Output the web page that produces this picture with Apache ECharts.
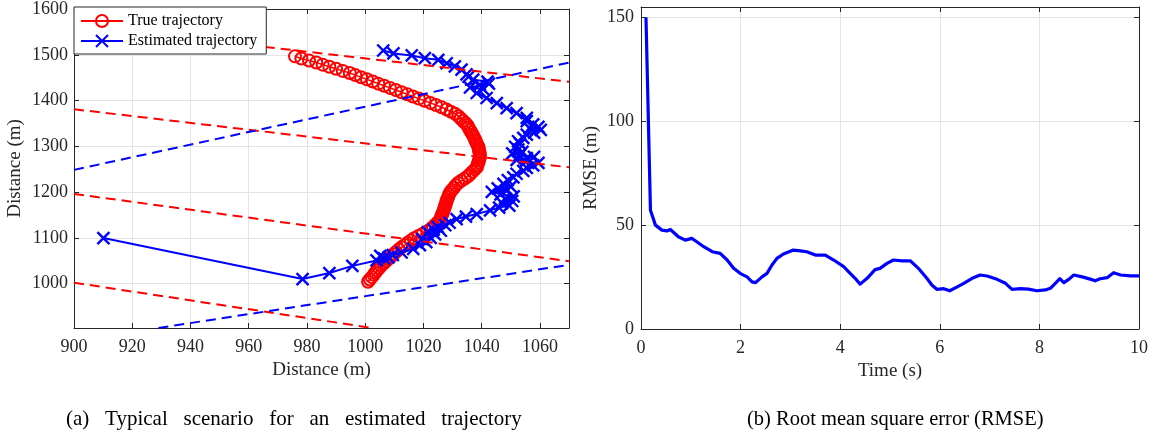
<!DOCTYPE html>
<html>
<head>
<meta charset="utf-8">
<script src="https://cdn.jsdelivr.net/npm/echarts@6.0.0/dist/echarts.min.js"></script>
<style>
  html, body { margin: 0; padding: 0; background: #fff; }
  #chart { width: 1157px; height: 438px; }
</style>
</head>
<body>
<div id="chart"></div>
<script>
// True target path [x, y] in metres, one sample every 0.1 s
const trueTrajectory = [
  [1001.0,1004.0],[1001.6,1009.0],[1002.3,1014.1],[1002.9,1019.1],[1003.5,1024.2],[1004.1,1029.2],
  [1004.8,1034.2],[1005.5,1039.3],[1006.4,1044.3],[1007.2,1049.3],[1008.0,1054.3],[1008.9,1059.3],
  [1009.7,1064.3],[1010.6,1069.3],[1011.5,1074.3],[1012.5,1079.3],[1013.6,1084.3],[1014.6,1089.2],
  [1015.7,1094.2],[1016.8,1099.1],[1018.3,1104.0],[1019.8,1108.9],[1021.3,1113.7],[1022.4,1118.7],
  [1023.3,1123.7],[1024.1,1128.7],[1024.9,1133.7],[1025.6,1138.7],[1026.0,1143.8],[1026.3,1148.9],
  [1026.6,1153.9],[1026.9,1159.0],[1027.2,1164.1],[1027.4,1169.1],[1027.7,1174.2],[1027.9,1179.3],
  [1028.2,1184.4],[1028.5,1189.4],[1028.8,1194.5],[1029.2,1199.6],[1029.8,1204.6],[1030.5,1209.6],
  [1031.1,1214.7],[1031.9,1219.7],[1033.0,1224.6],[1034.2,1229.6],[1035.3,1234.6],[1036.1,1239.6],
  [1036.9,1244.6],[1037.7,1249.6],[1038.4,1254.6],[1038.6,1259.7],[1038.9,1264.8],[1039.1,1269.9],
  [1039.4,1274.9],[1039.4,1280.0],[1039.3,1285.1],[1039.1,1290.2],[1039.0,1295.2],[1038.8,1300.3],
  [1038.4,1305.4],[1038.0,1310.4],[1037.7,1315.5],[1037.3,1320.6],[1036.9,1325.6],[1036.4,1330.7],
  [1036.0,1335.8],[1035.5,1340.8],[1035.1,1345.9],[1034.4,1350.9],[1033.6,1355.9],[1032.8,1360.9],
  [1032.0,1365.9],[1030.9,1370.9],[1029.4,1375.7],[1027.9,1380.6],[1026.2,1385.4],[1024.3,1390.1],
  [1022.4,1394.8],[1020.4,1399.5],[1018.4,1404.2],[1016.4,1408.8],[1014.5,1413.5],[1012.5,1418.2],
  [1010.5,1422.9],[1008.5,1427.6],[1006.5,1432.2],[1004.5,1436.9],[1002.6,1441.6],[1000.6,1446.3],
  [998.6,1451.0],[996.6,1455.6],[994.7,1460.3],[992.3,1464.8],[990.0,1469.3],[987.7,1473.9],
  [985.4,1478.4],[983.2,1483.0],[980.7,1487.4],[978.1,1491.7],[975.9,1496.5]
];

// Filter estimate [x, y] in metres
const estimatedTrajectory = [
  [910.1,1099.5],[978.5,1010.0],[987.7,1023.0],[995.6,1038.7],[1003.9,1050.7],[1006.5,1055.0],
  [1005.2,1060.5],[1008.0,1057.5],[1009.5,1062.5],[1012.5,1068.0],[1016.5,1076.0],[1018.8,1084.0],
  [1021.0,1090.5],[1019.5,1097.0],[1022.5,1100.0],[1024.0,1107.5],[1021.5,1112.5],[1023.5,1118.0],
  [1026.0,1115.5],[1025.0,1123.5],[1027.5,1127.5],[1029.0,1133.0],[1031.4,1141.0],[1034.6,1146.5],
  [1038.3,1152.0],[1042.9,1160.0],[1046.0,1166.0],[1049.5,1170.5],[1047.0,1176.0],[1050.5,1180.5],
  [1048.0,1186.0],[1051.0,1190.5],[1046.5,1195.0],[1043.5,1200.5],[1048.5,1203.0],[1045.5,1208.0],
  [1050.0,1212.0],[1047.5,1218.0],[1049.0,1226.0],[1050.9,1232.0],[1052.0,1240.0],[1054.3,1246.5],
  [1055.5,1253.0],[1057.7,1258.5],[1059.5,1264.0],[1055.0,1266.5],[1052.0,1270.5],[1055.5,1274.0],
  [1058.0,1277.0],[1053.0,1280.0],[1050.5,1284.5],[1054.0,1288.0],[1052.6,1293.0],[1051.5,1299.0],
  [1053.2,1305.0],[1052.5,1311.0],[1054.3,1318.5],[1055.5,1325.5],[1058.0,1330.0],[1060.3,1336.0],
  [1056.5,1339.0],[1059.5,1342.5],[1057.7,1348.0],[1055.5,1355.0],[1055.5,1362.0],[1052.0,1372.5],
  [1048.6,1383.5],[1045.2,1394.5],[1041.7,1405.5],[1038.3,1416.5],[1040.5,1425.0],[1036.0,1428.5],
  [1042.5,1437.0],[1039.4,1434.5],[1042.0,1441.5],[1037.1,1445.5],[1035.5,1452.0],[1034.8,1457.0],
  [1033.1,1467.5],[1030.8,1474.5],[1028.0,1481.5],[1025.1,1489.0],[1020.5,1492.5],[1016.0,1498.5],
  [1009.7,1503.0],[1006.2,1509.3]
];

// Dashed bearing lines, each given by its two end points
const redLines = [
  [[900, 1565], [1070, 1441]],
  [[900, 1381], [1070, 1254]],
  [[900, 1196], [1070, 1049]],
  [[900, 1002], [1002.5, 903]]
];
const blueLines = [
  [[900, 1248.5], [1070, 1483]],
  [[929, 903], [1070, 1041]]
];

// Root mean square error over time
const rmseTime = [
  0.1, 0.19, 0.29, 0.42, 0.52, 0.59, 0.75, 0.89, 1.02, 1.12, 1.26, 1.43, 1.59, 1.73, 1.86, 1.99,
  2.13, 2.23, 2.3, 2.43, 2.53, 2.63, 2.73, 2.86, 3.06, 3.2, 3.33, 3.5, 3.7, 3.87, 4.07, 4.2, 4.3,
  4.4, 4.54, 4.7, 4.8, 4.94, 5.07, 5.24, 5.41, 5.57, 5.74, 5.84, 5.94, 6.08, 6.2, 6.35, 6.48, 6.65,
  6.81, 6.95, 7.15, 7.32, 7.45, 7.62, 7.78, 7.95, 8.12, 8.22, 8.32, 8.41, 8.49, 8.59, 8.69, 8.86,
  9.02, 9.12, 9.22, 9.36, 9.49, 9.63, 9.83, 10.0
];
const rmseValue = [
  150, 57.2, 50, 47.6, 47.2, 47.9, 44.4, 42.8, 43.6, 42, 39.6, 37.2, 36.4, 33.2, 29.2, 26.8,
  25.1, 22.7, 22.3, 25.1, 26.8, 30.8, 34, 36.1, 38, 37.6, 37.2, 35.6, 35.6, 33.2, 30, 26.8, 24.4,
  21.6, 24.4, 28.6, 29.2, 31.6, 33.2, 32.8, 32.8, 29.2, 24.4, 21.2, 19.1, 19.4, 18.4, 20.3, 22, 24.4,
  26, 25.5, 23.9, 22, 19.1, 19.4, 19.2, 18.4, 18.8, 19.6, 22, 24.2, 22.3, 23.9, 26, 25.1,
  24, 23.2, 24.2, 24.7, 27.1, 26, 25.6, 25.6
];

const FONT = "'Liberation Serif', 'Times New Roman', serif";
const INK = '#262626';
const GRIDLINE = '#e4e4e4';
const RED = '#ff0000';
const BLUE = '#0000ff';

// Build one axis; mirrored axes carry ticks only, to close the box
function axis(opts) {
  const main = !opts.mirror;
  return {
    type: 'value',
    gridIndex: opts.grid,
    position: opts.position,
    min: opts.min,
    max: opts.max,
    interval: opts.interval,
    splitNumber: opts.splitNumber,
    name: main ? opts.name : '',
    nameLocation: 'middle',
    nameGap: opts.nameGap,
    nameTextStyle: { fontFamily: FONT, fontSize: 19, color: INK },
    axisLine: { show: true, onZero: false, lineStyle: { color: INK, width: 1 } },
    axisTick: { show: true, inside: true, length: 5, lineStyle: { color: INK, width: 1 } },
    axisLabel: {
      show: main,
      fontFamily: FONT,
      fontSize: 18,
      color: INK,
      margin: opts.labelMargin,
      showMinLabel: opts.showMinLabel,
      showMaxLabel: opts.showMaxLabel,
      formatter: (v) => String(v)
    },
    splitLine: { show: main, lineStyle: { color: GRIDLINE, width: 1 } }
  };
}

const lineSeries = (pts, color, idx) => ({
  type: 'line',
  name: 'bearing' + idx,
  xAxisIndex: 0,
  yAxisIndex: 0,
  data: pts,
  symbol: 'none',
  silent: true,
  z: 4,
  lineStyle: { color: color, width: 2, type: [10, 6] }
});

const option = {
  animation: false,
  backgroundColor: '#fff',
  grid: [
    { left: 74, top: 7, width: 495, height: 321 },
    { left: 641, top: 7, width: 498, height: 322 }
  ],
  xAxis: [
    axis({ grid: 0, position: 'bottom', min: 900, max: 1070, interval: 20, name: 'Distance (m)',
           nameGap: 31, labelMargin: 10, showMaxLabel: false }),
    axis({ grid: 0, position: 'top', min: 900, max: 1070, interval: 20, mirror: true }),
    axis({ grid: 1, position: 'bottom', min: 0, max: 10, interval: 2, name: 'Time (s)',
           nameGap: 33, labelMargin: 10 }),
    axis({ grid: 1, position: 'top', min: 0, max: 10, interval: 2, mirror: true })
  ],
  yAxis: [
    axis({ grid: 0, position: 'left', min: 903, max: 1600, splitNumber: 7, name: 'Distance (m)',
           nameGap: 49, labelMargin: 6, showMinLabel: false }),
    axis({ grid: 0, position: 'right', min: 903, max: 1600, splitNumber: 7, mirror: true }),
    axis({ grid: 1, position: 'left', min: 0, max: 155, interval: 50, name: 'RMSE (m)',
           nameGap: 40, labelMargin: 7, showMaxLabel: false }),
    axis({ grid: 1, position: 'right', min: 0, max: 155, interval: 50, mirror: true })
  ],
  legend: {
    left: 74,
    top: 7,
    z: 10,
    orient: 'vertical',
    selectedMode: false,
    data: ['True trajectory', 'Estimated trajectory'],
    itemWidth: 42,
    itemHeight: 15,
    itemGap: 4,
    padding: [6, 9, 5, 6],
    borderColor: INK,
    borderWidth: 1,
    borderRadius: 0,
    backgroundColor: '#fff',
    textStyle: { fontFamily: FONT, fontSize: 16, color: '#000' }
  },
  series: [
    {
      type: 'line',
      name: 'True trajectory',
      xAxisIndex: 0,
      yAxisIndex: 0,
      data: trueTrajectory,
      symbol: 'circle',
      symbolSize: 12,
      showAllSymbol: true,
      z: 2,
      lineStyle: { color: RED, width: 1.5 },
      itemStyle: { color: 'rgba(255,255,255,0)', borderColor: RED, borderWidth: 2 }
    },
    {
      type: 'line',
      name: 'Estimated trajectory',
      xAxisIndex: 0,
      yAxisIndex: 0,
      data: estimatedTrajectory,
      symbol: 'path://M0 0L10 10M10 0L0 10',
      symbolSize: 12,
      showAllSymbol: true,
      z: 3,
      lineStyle: { color: BLUE, width: 2 },
      itemStyle: { color: BLUE, borderColor: BLUE, borderWidth: 2.4 }
    },
    ...redLines.map((l, i) => lineSeries(l, RED, 'R' + i)),
    ...blueLines.map((l, i) => lineSeries(l, BLUE, 'B' + i)),
    {
      type: 'line',
      name: 'RMSE',
      xAxisIndex: 2,
      yAxisIndex: 2,
      data: rmseTime.map((t, i) => [t, rmseValue[i]]),
      symbol: 'none',
      z: 3,
      lineStyle: { color: BLUE, width: 3.2, join: 'round' }
    }
  ],
  graphic: [
    { type: 'text', left: 66, top: 409,
      style: { text: '(a)\u2002 Typical\u2002 scenario\u2002 for\u2002 an\u2002 estimated\u2002 trajectory',
               font: '21px ' + FONT, fill: '#000' } },
    { type: 'text', left: 747, top: 409,
      style: { text: '(b) Root mean square error (RMSE)', font: '20.5px ' + FONT, fill: '#000' } }
  ]
};

const chart = echarts.init(document.getElementById('chart'), null, { renderer: 'canvas' });
chart.setOption(option);
</script>
</body>
</html>
